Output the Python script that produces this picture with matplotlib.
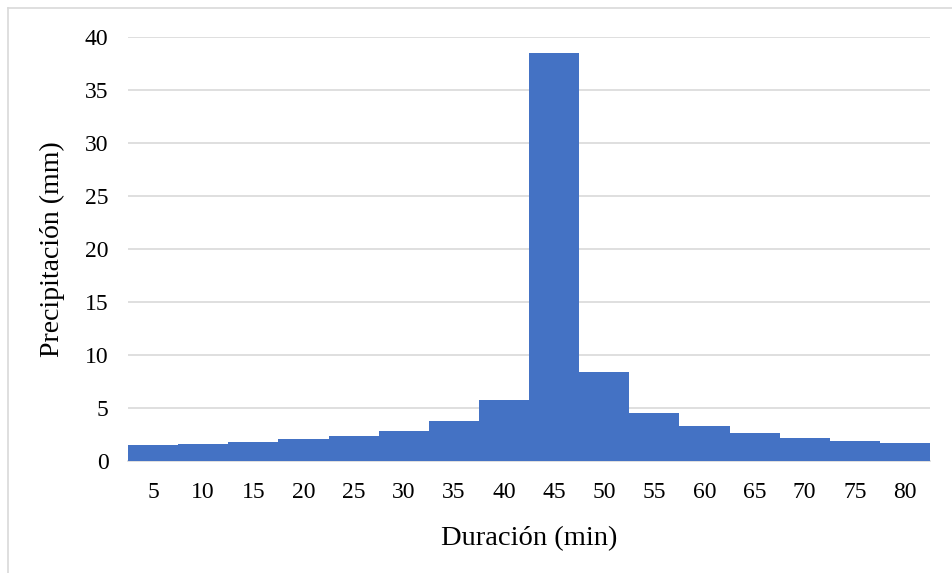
import numpy as np
import matplotlib
matplotlib.use('Agg')
import matplotlib.pyplot as plt
from matplotlib.lines import Line2D

duracion = [5, 10, 15, 20, 25, 30, 35, 40, 45, 50, 55, 60, 65, 70, 75, 80]
precip = [1.48, 1.58, 1.79, 2.02, 2.33, 2.83, 3.75, 5.70, 38.5, 8.37,
          4.47, 3.25, 2.58, 2.17, 1.86, 1.67]
y_ticks = [0, 5, 10, 15, 20, 25, 30, 35, 40]

plt.rcParams.update({'font.family': 'Liberation Serif'})

fig = plt.figure(figsize=(9.52, 5.73), dpi=100)
ax = fig.add_axes([128/952, 112.3/573, 802/952, 423.6/573])

x = np.arange(len(duracion))
ax.bar(x, precip, width=1.0, color='#4472C4', linewidth=0, zorder=3)

ax.set_xlim(-0.5, len(duracion) - 0.5)
ax.set_ylim(0, 40)
ax.set_yticks(y_ticks)
ax.set_yticklabels([str(v) for v in y_ticks], fontsize=17)
ax.set_xticks(x)
ax.set_xticklabels([str(d) for d in duracion], fontsize=17)
ax.tick_params(axis='both', length=0)
ax.tick_params(axis='y', pad=14)
ax.tick_params(axis='x', pad=15)
ax.grid(axis='y', color='#D9D9D9', linewidth=1.2, zorder=0)
for s in ['top', 'right', 'left']:
    ax.spines[s].set_visible(False)
ax.spines['bottom'].set_color('#D9D9D9')
ax.spines['bottom'].set_linewidth(1.2)

ax.set_xlabel('Duración (min)', fontsize=20.5, labelpad=17)
ax.set_ylabel('Precipitación (mm)', fontsize=20, labelpad=14)

# chart area border (left and top edges visible)
fig.add_artist(Line2D([8/952, 8/952], [0, 565/573], color='#D9D9D9', linewidth=1.2))
fig.add_artist(Line2D([8/952, 1], [565/573, 565/573], color='#D9D9D9', linewidth=1.2))

plt.savefig('out.png', dpi=100)
plt.close()
